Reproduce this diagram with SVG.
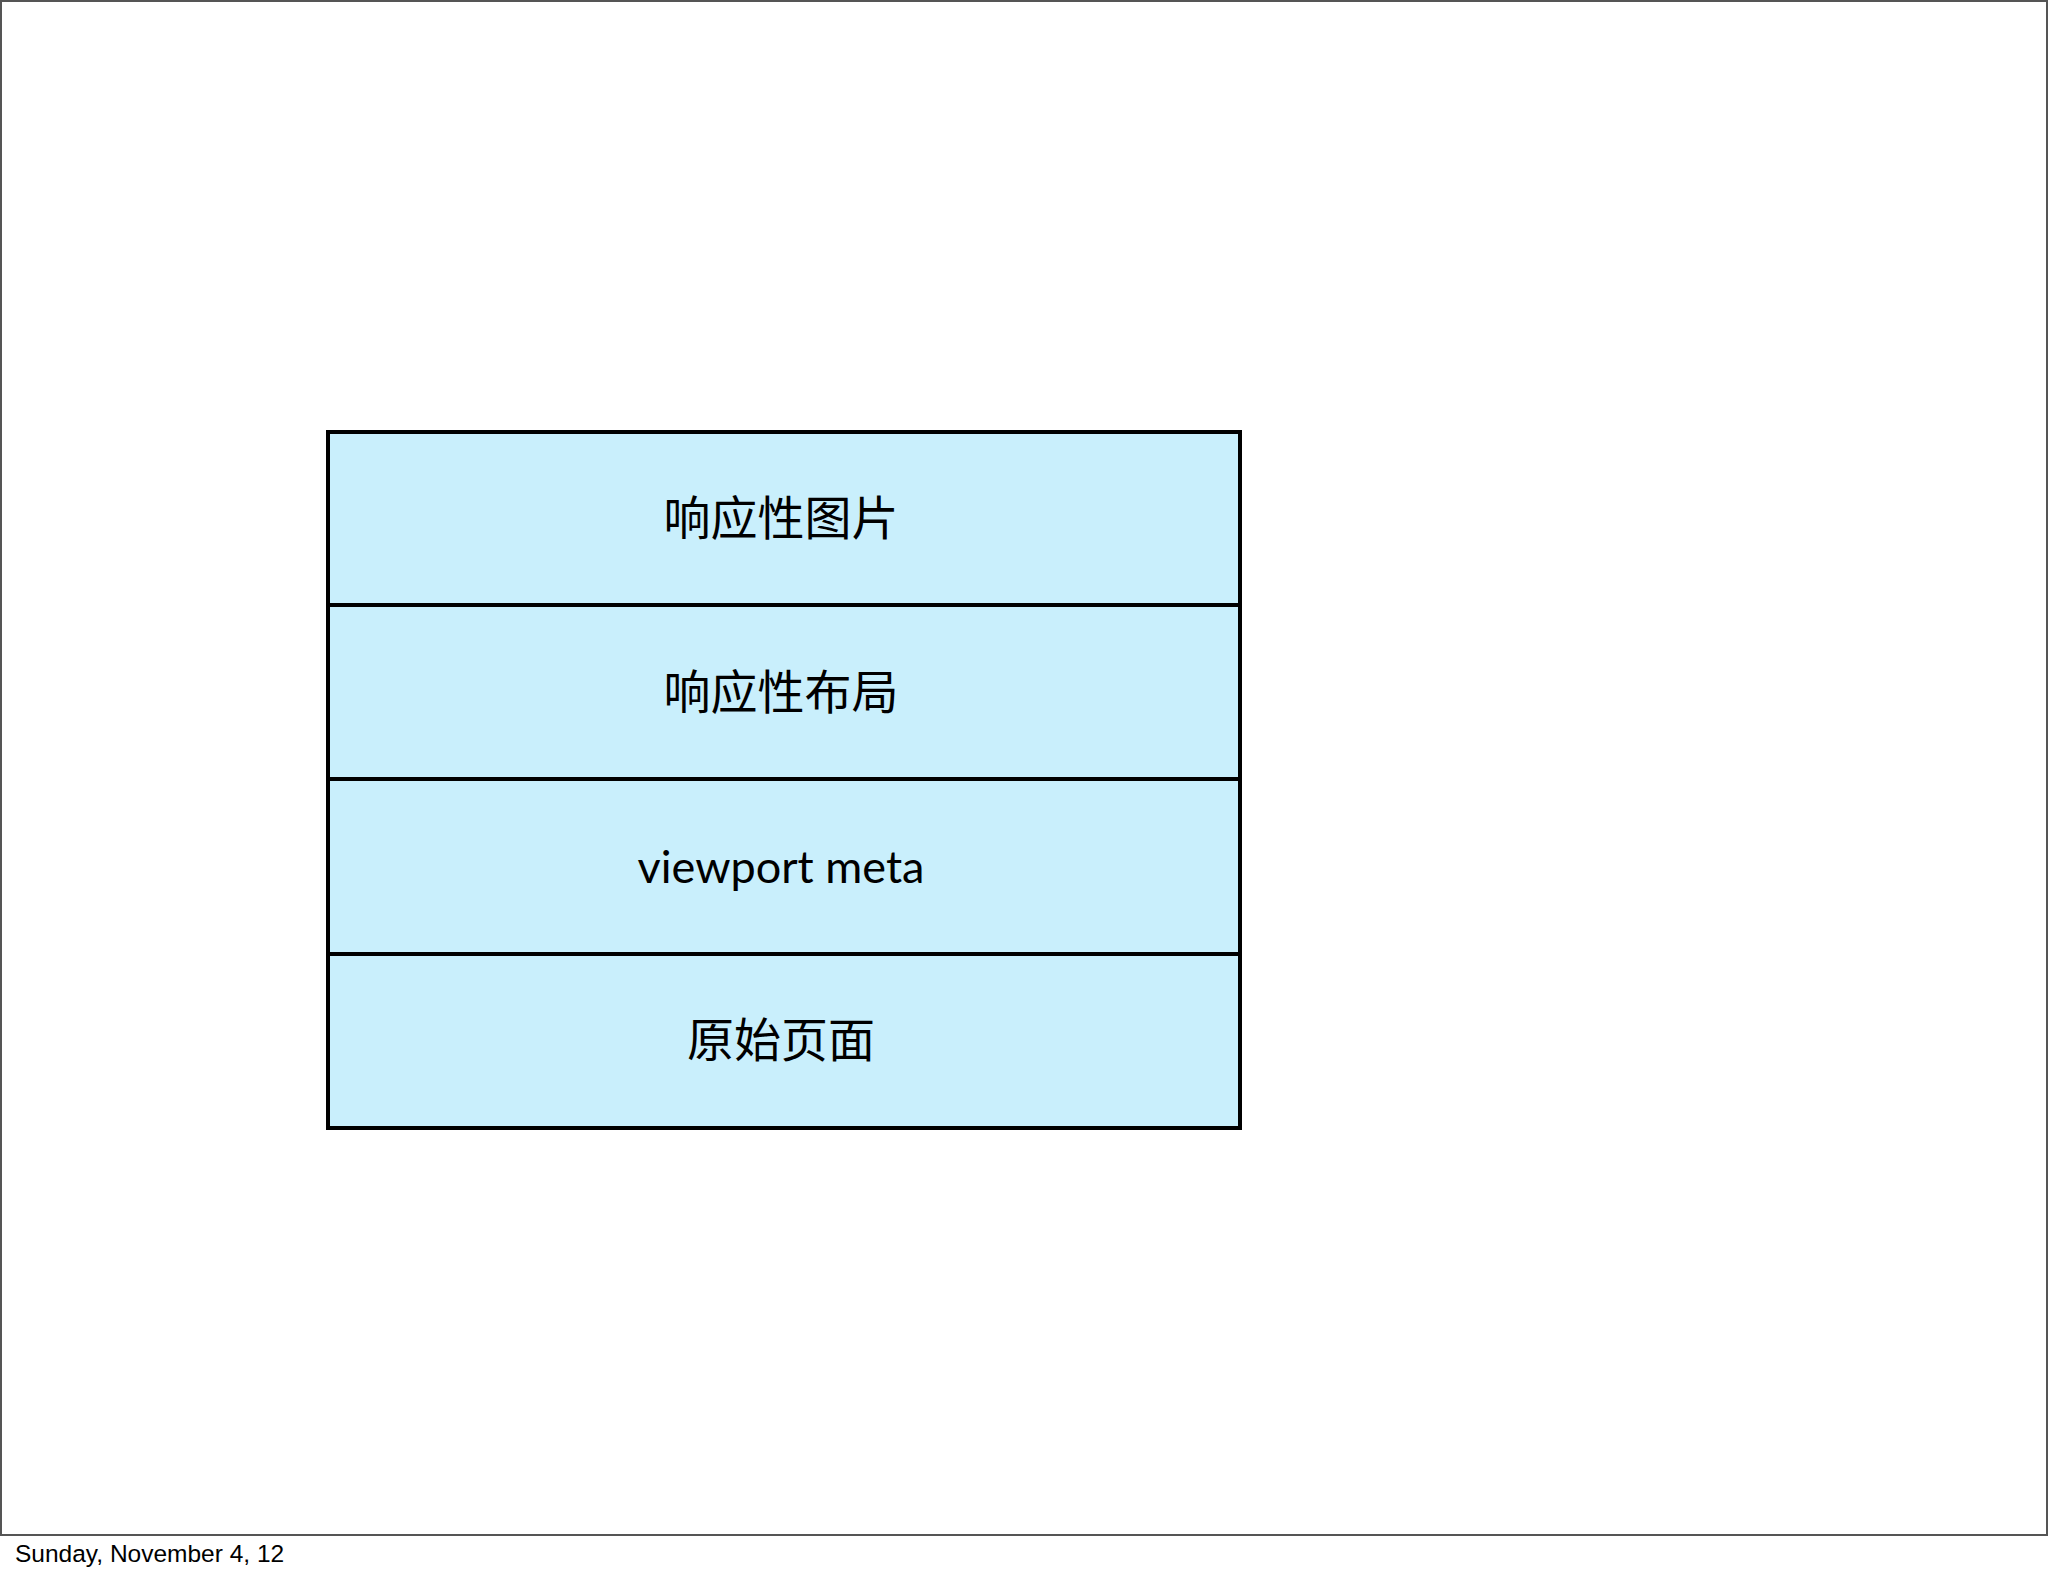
<svg xmlns="http://www.w3.org/2000/svg" width="2048" height="1576" viewBox="0 0 2048 1576">
<style>
.layer{fill:#c9effc;stroke:#000;stroke-width:4}
.cjk{font-family:"Noto Sans CJK SC","Noto Sans",sans-serif;font-size:47px;fill:#000;text-anchor:middle}
.lat{font-family:Lato,"Noto Sans",sans-serif;font-size:45px;fill:#000;text-anchor:middle}
.foot{font-family:"Liberation Sans",Arial,sans-serif;font-size:24.5px;fill:#000}
</style>
<rect x="0" y="0" width="2048" height="1576" fill="#fff"/>
<rect x="1" y="1" width="2046" height="1534" fill="#fff" stroke="#555" stroke-width="2"/>
<g id="layer-images">
<rect class="layer" x="328" y="432" width="912" height="173"/>
<text class="cjk" x="781" y="535">响应性图片</text>
</g>
<g id="layer-layout">
<rect class="layer" x="328" y="605" width="912" height="174"/>
<text class="cjk" x="781" y="709">响应性布局</text>
</g>
<g id="layer-viewport">
<rect class="layer" x="328" y="779" width="912" height="175"/>
<text class="lat" x="781" y="883">viewport meta</text>
</g>
<g id="layer-page">
<rect class="layer" x="328" y="954" width="912" height="174"/>
<text class="cjk" x="781" y="1057">原始页面</text>
</g>
<g id="connectors"></g>
<text class="foot" x="15" y="1562">Sunday, November 4, 12</text>
</svg>
